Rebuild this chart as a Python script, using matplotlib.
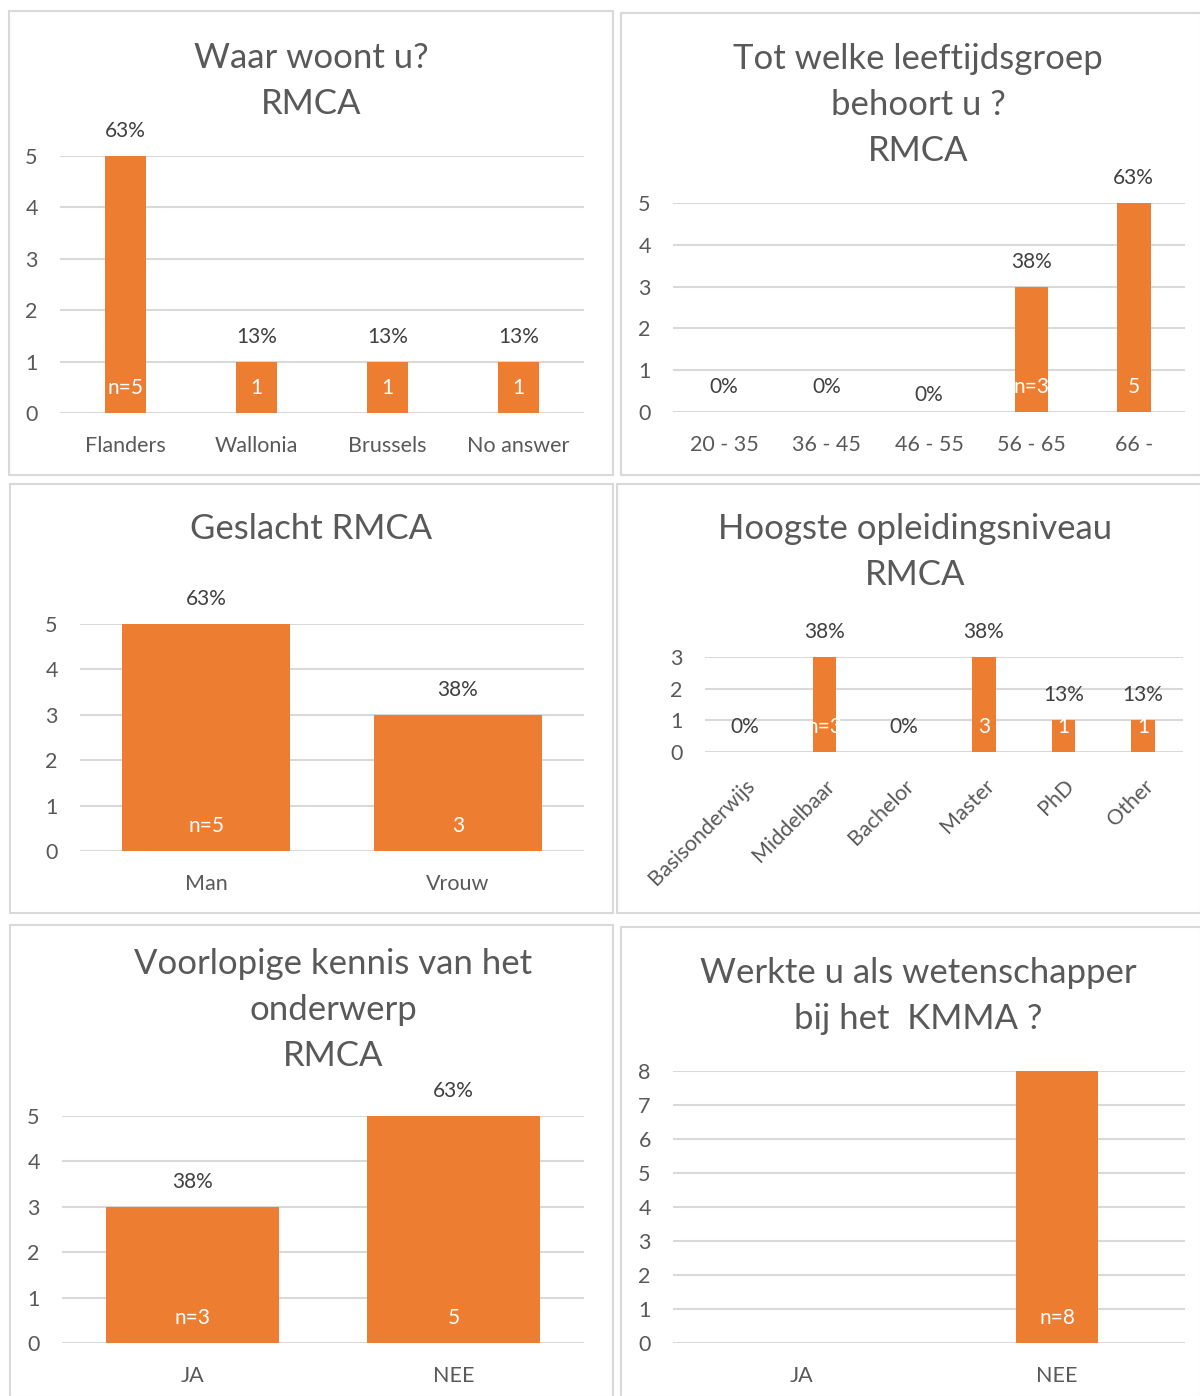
import matplotlib
matplotlib.use("Agg")
import matplotlib.pyplot as plt
from matplotlib.patches import Rectangle

W, H = 1200, 1396
ORANGE = "#ED7D31"
GRID = "#d9d9d9"
TXT = "#595959"
LBL = "#404040"

plt.rcParams["font.family"] = ["Lato", "DejaVu Sans"]

# data
woon_cats = ["Flanders", "Wallonia", "Brussels", "No answer"]
woon_vals = [5, 1, 1, 1]
woon_pct = ["63%", "13%", "13%", "13%"]

leeftijd_cats = ["20 - 35", "36 - 45", "46 - 55", "56 - 65", "66 -"]
leeftijd_vals = [0, 0, 0, 3, 5]
leeftijd_pct = ["0%", "0%", "0%", "38%", "63%"]

geslacht_cats = ["Man", "Vrouw"]
geslacht_vals = [5, 3]
geslacht_pct = ["63%", "38%"]

opleiding_cats = ["Basisonderwijs", "Middelbaar", "Bachelor", "Master", "PhD", "Other"]
opleiding_vals = [0, 3, 0, 3, 1, 1]
opleiding_pct = ["0%", "38%", "0%", "38%", "13%", "13%"]

kennis_cats = ["JA", "NEE"]
kennis_vals = [3, 5]
kennis_pct = ["38%", "63%"]

werk_cats = ["JA", "NEE"]
werk_vals = [0, 8]
werk_pct = [None, None]


def px(x0, y0, x1, y1):
    return [x0 / W, 1 - y1 / H, (x1 - x0) / W, (y1 - y0) / H]


fig = plt.figure(figsize=(W / 100, H / 100), dpi=100)

# panel borders
for x0, y0, x1, y1 in [(9, 11, 613, 475), (621, 13, 1201, 475), (10, 484, 613, 913),
                       (617, 484, 1201, 913), (10, 925, 613, 1397), (621, 927, 1201, 1397)]:
    fig.patches.append(Rectangle((x0 / W, 1 - y1 / H), (x1 - x0) / W, (y1 - y0) / H,
                                 transform=fig.transFigure, fill=False,
                                 edgecolor=GRID, lw=1.5))


def panel(box, cats, vals, pct, ymax, width, title, tx, ty, rot=False, pct_dy=None):
    ax = fig.add_axes(px(*box))
    x = list(range(len(cats)))
    ax.bar(x, vals, width=width, color=ORANGE, zorder=3)
    ax.set_xlim(-0.5, len(cats) - 0.5)
    ax.set_ylim(0, ymax)
    ax.set_yticks(range(ymax + 1))
    ax.yaxis.grid(True, color=GRID, lw=1.5, zorder=0)
    ax.set_axisbelow(True)
    for s in ax.spines.values():
        s.set_visible(False)
    ax.tick_params(axis="y", length=0, pad=16, labelsize=15.5, labelcolor=TXT)
    ax.tick_params(axis="x", length=0, pad=16.5, labelsize=15.5, labelcolor=TXT)
    ax.set_xticks(x)
    if rot:
        ax.set_xticklabels(cats, rotation=45, ha="right", rotation_mode="anchor")
        ax.tick_params(axis="x", pad=17)
    else:
        ax.set_xticklabels(cats)
    first = True
    for i, v in enumerate(vals):
        if pct[i] is not None:
            dy = 18
            if pct_dy and i in pct_dy:
                dy = pct_dy[i]
            ax.annotate(pct[i], (i, v), xytext=(0, dy), textcoords="offset points",
                        ha="center", va="center", fontsize=15, color=LBL)
        if v > 0:
            ax.annotate(("n=%d" % v) if first else str(v), (i, 0), xytext=(0, 18),
                        textcoords="offset points", ha="center", va="center",
                        fontsize=15, color="white", zorder=4)
            first = False
    fig.text(tx / W, 1 - ty / H, title, ha="center", va="center", fontsize=25,
             color=TXT, linespacing=1.55)
    return ax


panel((60, 156, 584, 413), woon_cats, woon_vals, woon_pct, 5, 0.31,
      "Waar woont u?\nRMCA", 311, 81)
panel((673, 203, 1185, 412), leeftijd_cats, leeftijd_vals, leeftijd_pct, 5, 0.33,
      "Tot welke leeftijdsgroep\nbehoort u ?\nRMCA", 918, 105, pct_dy={2: 12})
panel((80, 624, 584, 851), geslacht_cats, geslacht_vals, geslacht_pct, 5, 0.67,
      "Geslacht RMCA", 311, 529)
panel((705, 657, 1183, 752), opleiding_cats, opleiding_vals, opleiding_pct, 3, 0.3,
      "Hoogste opleidingsniveau\nRMCA", 915, 552, rot=True)
panel((62, 1116, 584, 1343), kennis_cats, kennis_vals, kennis_pct, 5, 0.66,
      "Voorlopige kennis van het\nonderwerp\nRMCA", 333, 1010)
panel((673, 1071, 1185, 1343), werk_cats, werk_vals, werk_pct, 8, 0.32,
      "Werkte u als wetenschapper\nbij het  KMMA ?", 918, 996)

fig.savefig("out.png", dpi=100)
